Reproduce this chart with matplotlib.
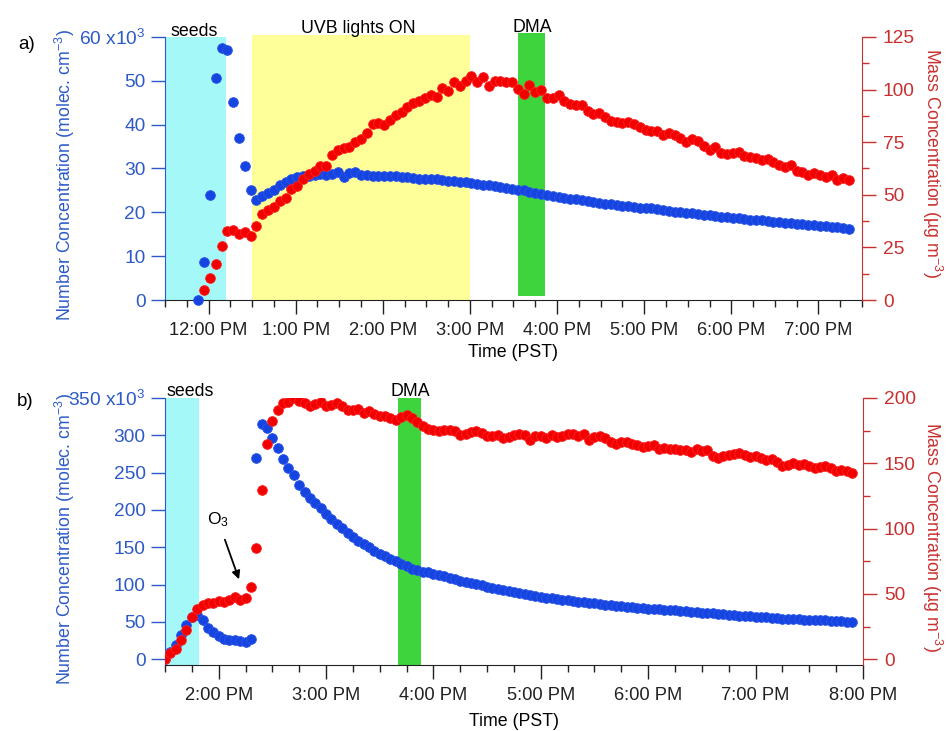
import numpy as np
import pandas as pd
import matplotlib
matplotlib.use("Agg")
import matplotlib.pyplot as plt
import matplotlib.dates as mdates
from matplotlib.ticker import MultipleLocator

plt.rcParams['font.family'] = ['Liberation Sans', 'DejaVu Sans']
plt.rcParams['mathtext.fontset'] = 'custom'
plt.rcParams['mathtext.rm'] = 'Liberation Sans'
plt.rcParams['mathtext.it'] = 'Liberation Sans:italic'
plt.rcParams['mathtext.bf'] = 'Liberation Sans:bold'

DAY = '2014-01-01'

# ---- panel a: number conc. (x10^3 molec cm-3), 4 min samples from 11:53
a_num = [0, 8.7, 23.9, 50.6, 57.6, 57.0, 45.2, 36.9, 30.5, 25.0,
         22.8, 23.8, 24.3, 25.0, 26.3, 26.9, 27.6, 28.0, 28.4, 28.4,
         28.6, 28.8, 28.6, 28.8, 29.2, 28.0, 28.9, 29.2, 28.6, 28.6,
         28.4, 28.4, 28.4, 28.3, 28.2, 28.0, 28.0, 27.9, 27.6, 27.6,
         27.6, 27.5, 27.3, 27.2, 27.1, 27.0, 26.9, 26.6, 26.5, 26.3,
         26.2, 26.0, 25.8, 25.6, 25.4, 25.2, 25.0, 24.7, 24.4, 24.2,
         23.9, 23.8, 23.5, 23.3, 23.1, 23.1, 22.9, 22.5, 22.3, 22.1,
         22.0, 21.8, 21.6, 21.5, 21.4, 21.2, 21.1, 20.9, 20.9, 20.8,
         20.6, 20.2, 20.1, 20.0, 19.9, 19.8, 19.6, 19.5, 19.3, 19.2,
         19.0, 18.9, 18.8, 18.7, 18.5, 18.3, 18.2, 18.2, 18.1, 17.9,
         17.7, 17.6, 17.5, 17.4, 17.3, 17.2, 17.1, 16.9, 16.8, 16.7,
         16.6, 16.5, 16.3]
# mass conc. (ug m-3), same sampling, first point at 11:57
a_mass = [4.8, 10.3, 17.0, 25.6, 32.9, 33.2, 31.3, 32.4, 30.5,
          35.0, 41.0, 43.0, 44.0, 47.2, 48.3, 52.8, 54.4, 57.6, 60.0,
          61.5, 63.9, 63.5, 68.7, 71.4, 72.2, 72.7, 75.0, 76.7, 79.3,
          83.5, 84.1, 83.0, 85.4, 88.1, 89.4, 91.5, 93.4, 94.6, 95.8,
          97.3, 96.5, 100.8, 99.2, 103.7, 101.6, 104.2, 106.4, 103.7, 106.0,
          101.6, 104.2, 104.2, 103.7, 103.7, 100.5, 98.1, 102.1, 98.9, 99.7,
          96.0, 96.2, 97.5, 94.5, 93.3, 92.8, 92.5, 90.0, 88.5, 88.8,
          87.0, 85.2, 84.5, 84.3, 84.4, 83.5, 82.0, 81.0, 80.4, 80.5,
          78.5, 79.5, 78.5, 76.8, 75.0, 76.5, 75.5, 73.2, 71.5, 72.5,
          70.0, 69.3, 69.8, 70.5, 68.5, 67.8, 67.5, 66.3, 67.0, 65.5,
          64.0, 63.0, 64.2, 61.5, 60.8, 59.5, 60.5, 59.3, 58.3, 59.4,
          57.0, 58.2, 56.8]

# ---- panel b: 3 min samples from 13:30
b_num = [0.9, 9.8, 18.8, 32.2, 45.6, 56.8, 59.0, 52.3, 42.5, 36.6,
         30.8, 27.7, 26.4, 25.5, 24.6, 23.2, 27.7, 269.1, 314.7, 309.4,
         296.0, 282.6, 267.8, 255.7, 246.7, 233.3, 224.4, 215.5, 208.8, 202.1,
         194.5, 187.3, 181.0, 175.3, 169.4, 164.0, 158.7, 154.2, 150.6, 145.2,
         141.7, 139.0, 135.0, 131.8, 128.3, 124.7, 121.6, 119.4, 117.2,
         116.5, 114.5, 113.0, 111.0, 109.5, 107.5, 105.3, 103.8, 102.0, 100.5,
         99.0, 97.5, 96.0, 94.5, 93.0, 91.5, 90.0, 88.6, 87.3, 86.0,
         84.8, 83.6, 82.7, 81.8, 80.8, 80.0, 79.0, 78.2, 77.2, 76.5,
         75.6, 74.8, 74.0, 73.3, 72.5, 71.8, 71.1, 70.5, 69.9, 69.3,
         68.7, 68.0, 67.4, 66.9, 66.4, 65.9, 65.4, 64.9, 64.4, 63.8,
         63.2, 62.6, 62.0, 61.4, 60.8, 60.2, 59.6, 59.0, 58.4, 57.9,
         57.5, 57.1, 56.7, 56.2, 55.7, 55.1, 54.6, 54.2, 53.8, 53.4,
         53.1, 52.8, 52.6, 52.4, 52.1, 51.8, 51.5, 51.2, 50.5, 49.5]
b_mass = [0.5, 4.4, 8.2, 14.6, 22.2, 32.4, 38.8, 41.4, 42.7, 43.1,
          44.7, 43.9, 45.7, 47.7, 45.7, 46.5, 55.4, 85.3, 129.7, 164.9,
          182.6, 190.8, 196.4, 197.2, 199.8, 197.5, 196.0, 193.5, 195.5, 197.0,
          193.5, 194.3, 196.0, 193.8, 191.0, 190.6, 191.8, 188.8, 190.0, 188.0,
          186.0, 186.0, 185.0, 183.3, 185.5, 187.0, 184.5, 181.5, 178.5, 176.0,
          175.3, 175.0, 175.5, 175.8, 175.0, 171.8, 172.3, 174.2, 174.5, 173.0,
          170.5, 171.0, 171.3, 169.5, 169.8, 171.5, 172.5, 171.5, 168.2, 170.5,
          171.0, 169.2, 172.0, 170.0, 170.5, 172.5, 172.3, 170.5, 172.5, 168.0,
          170.2, 170.8, 169.3, 166.0, 164.5, 166.2, 166.5, 164.7, 164.1, 162.8,
          163.5, 163.8, 160.8, 162.0, 160.8, 160.7, 160.5, 160.0, 159.0, 160.6,
          159.2, 160.0, 155.8, 154.0, 155.3, 156.3, 157.3, 158.0, 156.0, 154.8,
          155.8, 153.8, 152.7, 153.0, 151.0, 148.2, 149.0, 150.5, 148.8, 149.4,
          147.8, 146.6, 147.0, 147.6, 146.1, 144.0, 144.8, 144.2, 142.2]

a_num_time = pd.date_range(f'{DAY} 11:53', periods=len(a_num), freq='4min')
a_mass_time = pd.date_range(f'{DAY} 11:57', periods=len(a_mass), freq='4min')
b_time = pd.date_range(f'{DAY} 13:30', periods=len(b_num), freq='3min')

BLUE = '#1544e0'
RED = '#f20000'
AX_BLUE = '#2d5ac8'
AX_RED = '#c83030'
CYAN = '#a4f8f8'
YELLOW = '#ffff99'
GREEN = '#3dd43d'
MS = 7.0


def ts(hm):
    return pd.Timestamp(f'{DAY} {hm}')


def style(ax, ax2, yticks, ylabels, ylim, rticks, rminor, rlim, xlim):
    ax.set_xlim(ts(xlim[0]), ts(xlim[1]))
    ax.set_ylim(*ylim)
    ax2.set_ylim(*rlim)
    ax.xaxis.set_major_locator(mdates.HourLocator())
    ax.xaxis.set_minor_locator(mdates.MinuteLocator(byminute=[0, 15, 30, 45]))
    ax.xaxis.set_major_formatter(mdates.DateFormatter('%-I:%M %p'))
    ax.set_yticks(yticks, ylabels)
    ax2.set_yticks(rticks)
    ax2.yaxis.set_minor_locator(MultipleLocator(rminor))
    for s in ['top', 'right']:
        ax.spines[s].set_visible(False)
    for s in ['top', 'left', 'bottom']:
        ax2.spines[s].set_visible(False)
    ax.spines['left'].set_color(AX_BLUE)
    ax2.spines['right'].set_color(AX_RED)
    ax.spines['bottom'].set_color('#222222')
    ax.tick_params(axis='x', which='major', length=10, width=1, pad=6, labelsize=13.2, colors='#222222')
    ax.tick_params(axis='x', which='minor', length=5, width=1, colors='#222222')
    ax.tick_params(axis='y', length=10, width=1, pad=4, labelsize=13.8, colors=AX_BLUE)
    ax2.tick_params(axis='y', which='major', length=10, width=1, pad=5, labelsize=13.8, colors=AX_RED)
    ax2.tick_params(axis='y', which='minor', length=5, width=1, colors=AX_RED)
    ax.set_xlabel('Time (PST)', fontsize=12.8, va='center')
    ax.set_ylabel('Number Concentration (molec. cm$^{-3}$)', fontsize=12.8,
                  color=AX_BLUE, va='center', ha='center')
    ax2.set_ylabel('Mass Concentration (µg m$^{-3}$)', fontsize=12.8,
                   color=AX_RED, rotation=270, va='center', ha='center')


fig = plt.figure(figsize=(9.46, 7.31), dpi=100)

# ---------------- panel a
ax = fig.add_axes([0.1744, 0.5896, 0.7368, 0.3598])
ax2 = ax.twinx()
ax.axvspan(ts('11:30'), ts('12:12'), color=CYAN, lw=0, zorder=0)
ax.axvspan(ts('12:30'), ts('15:00'), ymax=1.008, color=YELLOW, lw=0, zorder=0, clip_on=False)
ax.axvspan(ts('15:33'), ts('15:52'), ymin=0.015, ymax=1.015, color=GREEN, lw=0, zorder=0, clip_on=False)
ax.plot(a_num_time, a_num, 'o', ms=MS, mfc=BLUE, mec='#2a55e8', mew=0.6, zorder=3, clip_on=False)
ax2.plot(a_mass_time, a_mass, 'o', ms=MS, mfc=RED, mec='#ff2020', mew=0.6, zorder=3)
style(ax, ax2, [0, 10, 20, 30, 40, 50, 60],
      ['0', '10', '20', '30', '40', '50', '60 x10$^3$'], (0, 60),
      [0, 25, 50, 75, 100, 125], 12.5, (0, 125), ('11:30', '19:30'))
ax.xaxis.set_label_coords(0.5, -0.2015)
ax.yaxis.set_label_coords(-0.1435, 0.475)
ax2.yaxis.set_label_coords(1.1004, 0.52)
ax.text(0.042, 1.004, 'seeds', transform=ax.transAxes, ha='center', va='baseline', fontsize=12.8)
ax.text(0.278, 1.015, 'UVB lights ON', transform=ax.transAxes, ha='center', va='baseline', fontsize=12.8)
ax.text(0.527, 1.019, 'DMA', transform=ax.transAxes, ha='center', va='baseline', fontsize=12.8)
ax.text(-0.211, 0.97, 'a)', transform=ax.transAxes, ha='left', va='center', fontsize=13.5)

# ---------------- panel b
bx = fig.add_axes([0.1744, 0.0903, 0.7378, 0.3653])
bx2 = bx.twinx()
bx.axvspan(ts('13:30'), ts('13:49'), color=CYAN, lw=0, zorder=0)
bx.axvspan(ts('15:40'), ts('15:53'), color=GREEN, lw=0, zorder=0)
bx.plot(b_time, b_num, 'o', ms=MS, mfc=BLUE, mec='#2a55e8', mew=0.6, zorder=3)
bx2.plot(b_time, b_mass, 'o', ms=MS, mfc=RED, mec='#ff2020', mew=0.6, zorder=3)
style(bx, bx2, [0, 50, 100, 150, 200, 250, 300, 350],
      ['0', '50', '100', '150', '200', '250', '300', '350 x10$^3$'], (-7.6, 350),
      [0, 50, 100, 150, 200], 25, (-4.4, 200), ('13:30', '20:00'))
bx.xaxis.set_label_coords(0.5, -0.21)
bx.yaxis.set_label_coords(-0.1435, 0.472)
bx2.yaxis.set_label_coords(1.0996, 0.48)
bx.text(0.0015, 1.0075, 'seeds', transform=bx.transAxes, ha='left', va='baseline', fontsize=12.8)
bx.text(0.352, 1.0075, 'DMA', transform=bx.transAxes, ha='center', va='baseline', fontsize=12.8)
bx.text(-0.212, 0.985, 'b)', transform=bx.transAxes, ha='left', va='center', fontsize=13.5)
bx.text(0.076, 0.543, 'O$_3$', transform=bx.transAxes, ha='center', va='center', fontsize=12.5)
bx.annotate('', xy=(0.1074, 0.311), xytext=(0.0845, 0.479), xycoords='axes fraction',
            arrowprops=dict(arrowstyle='-|>', color='black', lw=1.3, mutation_scale=12))

fig.savefig('out.png', dpi=100)
